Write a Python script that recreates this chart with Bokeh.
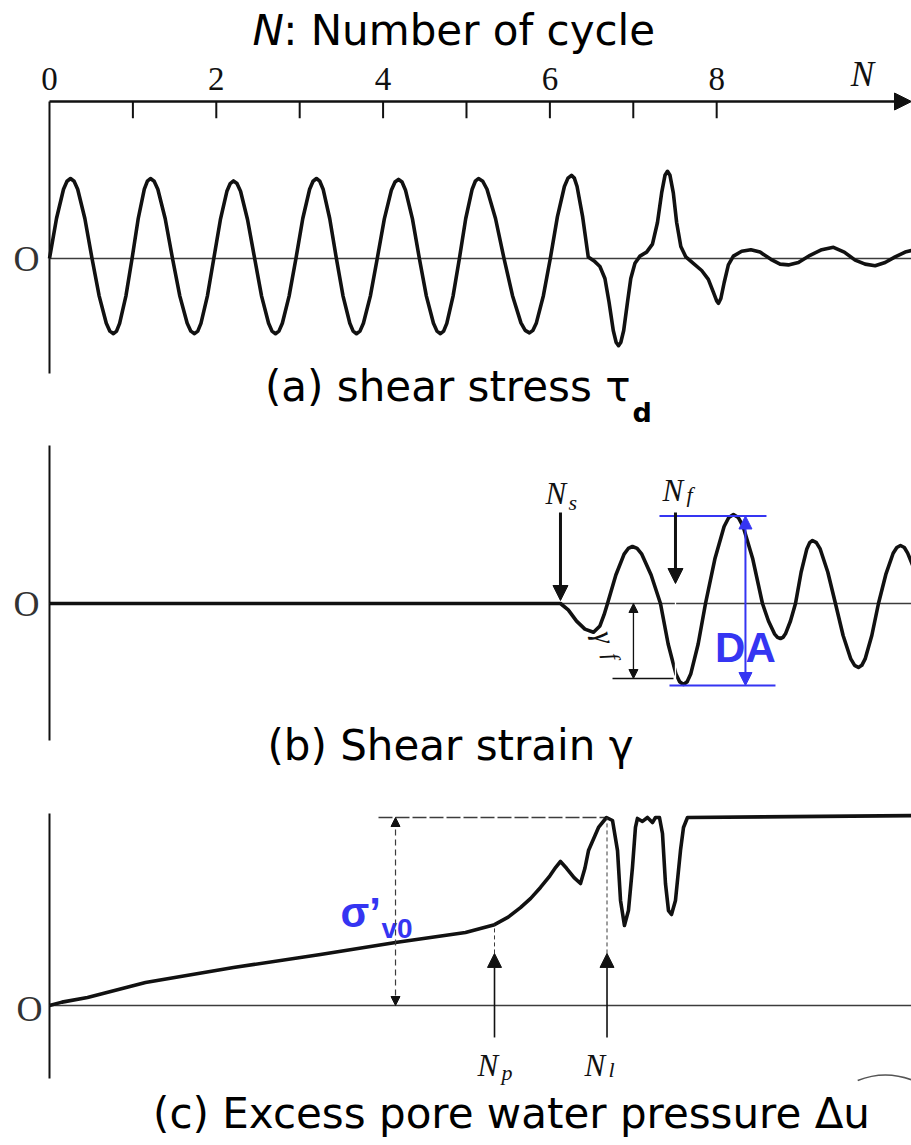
from bokeh.plotting import figure
from bokeh.models import Range1d, Arrow, NormalHead
from bokeh.layouts import column
from bokeh.embed import file_html
from bokeh.resources import INLINE
from bokeh.core.properties import value

# ---------------- data ----------------
# (a) shear stress tau_d (relative units, normal peak = 1)
tau_N = [0.0, 0.084, 0.168, 0.21, 0.252, 0.295, 0.338, 0.424, 0.51,
         0.596, 0.681, 0.724, 0.767, 0.804, 0.841, 0.916, 0.99,
         1.064, 1.137, 1.174, 1.211, 1.255, 1.299, 1.387, 1.475,
         1.563, 1.651, 1.695, 1.739, 1.778, 1.816, 1.893, 1.97,
         2.049, 2.127, 2.167, 2.206, 2.248, 2.291, 2.375, 2.46,
         2.543, 2.627, 2.668, 2.71, 2.751, 2.792, 2.873, 2.955,
         3.037, 3.119, 3.16, 3.201, 3.241, 3.281, 3.36, 3.44,
         3.52, 3.601, 3.641, 3.681, 3.723, 3.764, 3.847, 3.93,
         4.015, 4.1, 4.143, 4.185, 4.227, 4.268, 4.352, 4.435,
         4.519, 4.604, 4.646, 4.688, 4.726, 4.764, 4.839, 4.915,
         4.991, 5.068, 5.106, 5.144, 5.195, 5.246, 5.348, 5.45,
         5.552, 5.653, 5.704, 5.755, 5.797, 5.838, 5.922, 6.005,
         6.09, 6.174, 6.217, 6.259, 6.293, 6.326, 6.393, 6.46,
         6.53, 6.6, 6.66, 6.71, 6.76, 6.795, 6.823, 6.85, 6.885, 6.93, 6.97, 7.02,
         7.08, 7.16, 7.23, 7.29, 7.34, 7.38, 7.41, 7.44, 7.48, 7.52, 7.57, 7.63,
         7.72, 7.82, 7.9, 7.96, 8.0, 8.022, 8.05, 8.09, 8.14, 8.2,
         8.3, 8.41, 8.52, 8.65, 8.76, 8.86, 8.98, 9.12, 9.26, 9.4,
         9.53, 9.66, 9.78, 9.9, 10.02, 10.14, 10.26, 10.34]
tau_val = [0.0, 0.5, 0.866, 0.966, 1.0, 0.966, 0.866, 0.5, 0.0,
           -0.47, -0.81, -0.908, -0.94, -0.908, -0.81, -0.47, 0.0,
           0.5, 0.866, 0.966, 1.0, 0.966, 0.866, 0.5, 0.0,
           -0.47, -0.81, -0.908, -0.94, -0.908, -0.81, -0.47, 0.0,
           0.485, 0.84, 0.937, 0.97, 0.937, 0.84, 0.485, 0.0,
           -0.47, -0.81, -0.908, -0.94, -0.908, -0.81, -0.47, 0.0,
           0.5, 0.866, 0.966, 1.0, 0.966, 0.866, 0.5, 0.0,
           -0.47, -0.81, -0.908, -0.94, -0.908, -0.81, -0.47, 0.0,
           0.495, 0.857, 0.956, 0.99, 0.956, 0.857, 0.495, 0.0,
           -0.47, -0.81, -0.908, -0.94, -0.908, -0.81, -0.47, 0.0,
           0.5, 0.866, 0.966, 1.0, 0.966, 0.866, 0.5, 0.0,
           -0.465, -0.805, -0.898, -0.93, -0.898, -0.805, -0.465, 0.0,
           0.52, 0.9, 1.005, 1.04, 1.005, 0.9, 0.52, 0.02,
           -0.03, -0.1, -0.25, -0.55, -0.9, -1.05, -1.09, -1.05, -0.9, -0.55, -0.25, -0.06,
           0.03, 0.08, 0.18, 0.45, 0.82, 1.04, 1.09, 1.04, 0.82, 0.45, 0.15, 0.02,
           -0.06, -0.15, -0.26, -0.42, -0.53, -0.56, -0.5, -0.3, -0.08, 0.03,
           0.09, 0.11, 0.08, -0.01, -0.07, -0.08, -0.05, 0.04, 0.11, 0.14,
           0.08, -0.02, -0.07, -0.09, -0.05, 0.02, 0.08, 0.1]

# (b) shear strain gamma (relative units)
gamma_N = [0.0, 6.127, 6.22, 6.32, 6.42, 6.523, 6.6, 6.65, 6.691,
           6.791, 6.89, 6.94, 6.99, 7.046, 7.102, 7.214, 7.326,
           7.418, 7.51, 7.556, 7.602, 7.646, 7.69, 7.778, 7.866,
           7.978, 8.089, 8.145, 8.201, 8.259, 8.317, 8.433, 8.549,
           8.621, 8.693, 8.729, 8.765, 8.795, 8.825, 8.885, 8.945,
           9.013, 9.081, 9.115, 9.149, 9.195, 9.241, 9.332, 9.424,
           9.516, 9.608, 9.654, 9.70, 9.74, 9.78, 9.86, 9.94,
           10.028, 10.116, 10.16, 10.204, 10.25, 10.29, 10.36]
gamma_val = [0.0, 0.0, -0.08, -0.22, -0.32, -0.36, -0.28, -0.14, 0.0,
             0.356, 0.617, 0.688, 0.7125, 0.688, 0.617, 0.356, 0.0,
             -0.506, -0.877, -0.978, -1.0125, -0.978, -0.877, -0.506, 0.0,
             0.556, 0.963, 1.075, 1.1125, 1.075, 0.963, 0.556, 0.0,
             -0.219, -0.379, -0.423, -0.4375, -0.423, -0.379, -0.219, 0.0,
             0.394, 0.682, 0.761, 0.7875, 0.761, 0.682, 0.394, 0.0,
             -0.4, -0.693, -0.773, -0.8, -0.773, -0.693, -0.4, 0.0,
             0.363, 0.628, 0.70, 0.725, 0.70, 0.63, 0.45]

# (c) excess pore water pressure, as a fraction of sigma'_v0
du_N = [0.0, 0.15, 0.456, 1.151, 2.206, 3.249, 4.149, 4.988, 5.336, 5.5,
        5.647, 5.77, 5.887, 6.0, 6.07, 6.127, 6.2, 6.29, 6.367, 6.42,
        6.463, 6.583, 6.679, 6.751, 6.811, 6.847, 6.894, 6.942, 6.99, 7.026,
        7.05, 7.11, 7.17, 7.23, 7.266, 7.314, 7.35, 7.386, 7.422, 7.458,
        7.506, 7.566, 7.602, 7.65, 10.336]
du_val = [0.0, 0.018, 0.043, 0.122, 0.202, 0.271, 0.335, 0.388, 0.43, 0.47,
          0.521, 0.57, 0.628, 0.69, 0.735, 0.766, 0.73, 0.68, 0.649, 0.73,
          0.824, 0.947, 1.0, 0.984, 0.824, 0.559, 0.426, 0.505, 0.734, 0.947,
          0.995, 0.979, 1.0, 0.973, 1.0, 1.0, 0.915, 0.649, 0.505, 0.484,
          0.559, 0.824, 0.947, 1.0, 1.01]

axis_ticks = [1, 2, 3, 4, 5, 6, 7, 8]
tick_N = [0, 2, 4, 6, 8]
tick_labels = ["0", "2", "4", "6", "8"]

N_s = 6.127
N_f = 7.506
N_p = 5.336
N_l = 6.685
N_gamma_f = 7.002
gamma_f = -0.9375
N_DA = 8.345
DA_top = 1.094
DA_bottom = -1.025
N_sigma = 4.149
sigma_v0 = 1.0
du_at_Np = 0.43

assert len(tau_N) == len(tau_val)
assert len(gamma_N) == len(gamma_val)
assert len(du_N) == len(du_val)

# ---------------- style / layout ----------------
W = 911
X0, X1 = -0.5875, 10.336
INK = "#111111"
THIN = "#3c3c3c"
BLUE = "#3535F2"
SERIF = value("Liberation Serif")
SANS = value("DejaVu Sans")
ARIAL = value("Liberation Sans")
CAP = "42px"


def panel(h, y0, y1):
    p = figure(width=W, height=h, x_range=Range1d(X0, X1), y_range=Range1d(y0, y1),
               output_backend="svg", toolbar_location=None,
               x_axis_location=None, y_axis_location=None, min_border=0)
    p.grid.grid_line_color = None
    p.grid.visible = False
    p.outline_line_color = None
    p.background_fill_color = "white"
    p.border_fill_color = "white"
    return p


def head(size, color=INK):
    return NormalHead(size=size, fill_color=color, line_color=color, line_width=1)


def txt(p, x, y, s, font, size, style="normal", align="left", color="black", angle=0.0):
    p.text(x=[x], y=[y], text=[s], text_font=font, text_font_size=size,
           text_font_style=style, text_align=align, text_baseline="middle",
           text_color=color, angle=angle)


def label_N(p, x, y, sub, xsub, ysub):
    txt(p, x, y, "N", SERIF, "31px", "italic", color=INK)
    txt(p, xsub, ysub, sub, SERIF, "22px", "italic", color=INK)


# ---------------- (a) ----------------
pa = panel(430, -2.15, 3.225)
AX = 1.9625
pa.add_layout(Arrow(x_start=0, y_start=AX, x_end=X1, y_end=AX, line_width=2.4,
                    line_color=INK, end=head(17)))
pa.segment(x0=axis_ticks, y0=[AX] * len(axis_ticks), x1=axis_ticks,
           y1=[AX - 0.21] * len(axis_ticks), line_width=2, line_color=INK)
pa.text(x=tick_N, y=[2.244] * len(tick_N), text=tick_labels, text_font=SERIF,
        text_font_size="33px", text_align="center", text_baseline="middle", text_color=INK)
txt(pa, 9.748, 2.306, "N", SERIF, "35px", "italic", align="center", color=INK)
# title
txt(pa, 2.434, 2.856, "N", SANS, CAP, "italic")
txt(pa, 2.802, 2.856, ": Number of cycle", SANS, CAP)
# axes
pa.segment(x0=[0], y0=[AX], x1=[0], y1=[-1.4375], line_width=2, line_color=INK)
pa.segment(x0=[0], y0=[0], x1=[X1], y1=[0], line_width=1.5, line_color=THIN)
txt(pa, -0.276, 0.0, "O", SERIF, "36px", align="center", color="#333333")
pa.line(tau_N, tau_val, line_width=3.6, line_color=INK, line_join="round")
# caption
txt(pa, 6.966, -1.606, "(a) shear stress τ", SANS, CAP, align="right")
txt(pa, 6.99, -1.925, "d", SANS, "27px", "bold")

# ---------------- (b) ----------------
pb = panel(350, -2.2125, 2.1625)
pb.segment(x0=[0], y0=[1.975], x1=[0], y1=[-1.7125], line_width=2, line_color=INK)
pb.segment(x0=[0], y0=[0], x1=[X1], y1=[0], line_width=1.5, line_color=THIN)
txt(pb, -0.276, 0.0, "O", SERIF, "36px", align="center", color="#333333")
pb.line(gamma_N, gamma_val, line_width=3.6, line_color=INK, line_join="round")
# thin white scratch through the curve below the N_f arrow (as in the scan)
pb.segment(x0=[N_f], y0=[0.2], x1=[N_f], y1=[-1.2], line_width=1.3, line_color="white")
pb.add_layout(Arrow(x_start=N_s, y_start=1.1375, x_end=N_s, y_end=0.0375, line_width=3,
                    line_color=INK, end=head(15)))
pb.add_layout(Arrow(x_start=N_f, y_start=1.1375, x_end=N_f, y_end=0.25, line_width=3,
                    line_color=INK, end=head(15)))
label_N(pb, 5.947, 1.375, "s", 6.223, 1.26)
label_N(pb, 7.350, 1.41, "f", 7.638, 1.36)
# gamma_f
pb.add_layout(Arrow(x_start=N_gamma_f, y_start=0.0, x_end=N_gamma_f, y_end=gamma_f,
                    line_width=1.3, line_color=INK, start=head(9), end=head(9)))
pb.segment(x0=[6.751], y0=[gamma_f], x1=[7.482], y1=[gamma_f], line_width=1.3, line_color=INK)
txt(pb, 6.66, -0.42, "γ", SERIF, "30px", "italic", align="center", color=INK, angle=-1.35)
txt(pb, 6.745, -0.66, "f", SERIF, "22px", "italic", align="center", color=INK, angle=-1.35)
# DA
pb.segment(x0=[7.314, 7.434], y0=[DA_top, DA_bottom], x1=[8.597, 8.705], y1=[DA_top, DA_bottom],
           line_width=2, line_color=BLUE)
pb.add_layout(Arrow(x_start=N_DA, y_start=DA_bottom, x_end=N_DA, y_end=DA_top, line_width=2,
                    line_color=BLUE, start=head(13, BLUE), end=head(13, BLUE)))
txt(pb, N_DA, -0.55, "DA", ARIAL, "42px", "bold", align="center", color=BLUE)
# caption
txt(pb, 4.808, -1.781, "(b) Shear strain γ", SANS, CAP, align="center")

# ---------------- (c) ----------------
pc = panel(365, -0.74468, 1.19681)
pc.segment(x0=[0], y0=[1.021], x1=[0], y1=[-0.388], line_width=2, line_color=INK)
pc.segment(x0=[0], y0=[0], x1=[X1], y1=[0], line_width=1.5, line_color=THIN)
pc.segment(x0=[3.945], y0=[sigma_v0], x1=[N_l], y1=[sigma_v0], line_width=1.3,
           line_color=THIN, line_dash="14 3")
txt(pc, -0.24, -0.016, "O", SERIF, "36px", align="center", color="#333333")
pc.add_layout(Arrow(x_start=N_sigma, y_start=0.0, x_end=N_sigma, y_end=sigma_v0, line_width=1.2,
                    line_dash="6 4", line_color=THIN, start=head(9), end=head(9)))
pc.line(du_N, du_val, line_width=3.6, line_color=INK, line_join="round")
pc.add_layout(Arrow(x_start=N_p, y_start=-0.17, x_end=N_p, y_end=0.277, line_width=1.6,
                    line_color=INK, end=head(14)))
pc.add_layout(Arrow(x_start=N_l, y_start=-0.17, x_end=N_l, y_end=0.277, line_width=1.6,
                    line_color=INK, end=head(14)))
pc.segment(x0=[N_p, N_l], y0=[0.277, 0.277], x1=[N_p, N_l], y1=[du_at_Np, sigma_v0],
           line_width=1, line_color=THIN, line_dash="4 3")
label_N(pc, 5.132, -0.319, "p", 5.42, -0.356)
label_N(pc, 6.415, -0.319, "l", 6.703, -0.34)
txt(pc, 3.489, 0.495, "σ’", ARIAL, "42px", "bold", color=BLUE)
txt(pc, 3.981, 0.41, "v0", ARIAL, "28px", "bold", color=BLUE)
pc.arc(x=[10.024], y=[-0.77], radius=0.9, start_angle=1.2, end_angle=1.95,
       line_color="#555555", line_width=1.5)
txt(pc, 5.54, -0.572, "(c) Excess pore water pressure Δu", SANS, CAP, align="center")

layout = column(pa, pb, pc, spacing=0)
with open("out.html", "w") as f:
    f.write(file_html(layout, INLINE))
